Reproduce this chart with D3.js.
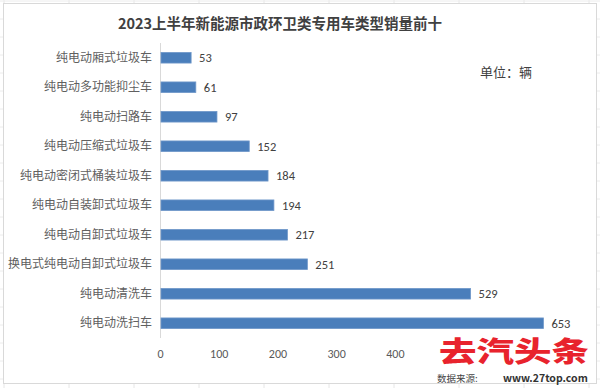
<!DOCTYPE html>
<html>
<head>
<meta charset="utf-8">
<script src="https://cdn.jsdelivr.net/npm/d3@7"></script>
<style>
  body { margin: 0; background: #fff; }
  text { font-family: "Noto Sans CJK SC", "Noto Sans", sans-serif; }
</style>
</head>
<body>
<div id="chart"></div>
<script>
// 数据 (从上到下)
var categories = ['纯电动厢式垃圾车', '纯电动多功能抑尘车', '纯电动扫路车', '纯电动压缩式垃圾车',
  '纯电动密闭式桶装垃圾车', '纯电动自装卸式垃圾车', '纯电动自卸式垃圾车', '换电式纯电动自卸式垃圾车',
  '纯电动清洗车', '纯电动洗扫车'];
var sales = [53, 61, 97, 152, 184, 194, 217, 251, 529, 653];
// 500以上的刻度被水印盖住了
var tickValues = [0, 100, 200, 300, 400];

var width = 600, height = 388;

var svg = d3.select('#chart').append('svg')
  .attr('width', width)
  .attr('height', height);

// 背景的表格线
var grid = svg.append('g');
d3.range(-1, 10).forEach(function(k) {
  grid.append('line')
    .attr('x1', 4 + 65 * k).attr('x2', 4 + 65 * k)
    .attr('y1', 0).attr('y2', height)
    .attr('stroke', '#e6e6e6');
});
d3.range(0, 23).forEach(function(k) {
  grid.append('line')
    .attr('x1', 0).attr('x2', width)
    .attr('y1', 1 + 18 * k).attr('y2', 1 + 18 * k)
    .attr('stroke', '#ececec');
});

// 图表区
svg.append('rect')
  .attr('x', 3.5).attr('y', 3.5)
  .attr('width', 593).attr('height', 380)
  .attr('fill', '#fff')
  .attr('stroke', '#d9d9d9');

var x = d3.scaleLinear().domain([0, 700]).range([160, 571]);
var y = d3.scaleBand().domain(categories).range([43, 338]).paddingInner(0.64).paddingOuter(0.32);

svg.append('text')
  .attr('x', 280).attr('y', 29)
  .attr('text-anchor', 'middle')
  .attr('font-size', 14.5)
  .attr('font-weight', 'bold')
  .attr('fill', '#404040')
  .text('2023上半年新能源市政环卫类专用车类型销量前十');

// x轴
var xAxis = svg.append('g')
  .attr('transform', 'translate(0,338)')
  .call(d3.axisBottom(x).tickValues(tickValues).tickSize(0).tickPadding(11));
xAxis.select('.domain').remove();
xAxis.selectAll('text')
  .attr('font-size', 12)
  .attr('fill', '#595959')
  .style('font-family', 'Carlito, "Liberation Sans", sans-serif');

// y轴
var yAxis = svg.append('g')
  .attr('transform', 'translate(160,0)')
  .call(d3.axisLeft(y).tickSize(0).tickPadding(8));
yAxis.select('.domain')
  .attr('stroke', '#d9d9d9')
  .attr('d', 'M0.5,43V338');
yAxis.selectAll('text')
  .attr('font-size', 12)
  .attr('fill', '#606060');

// 长条
svg.selectAll('.bar')
  .data(sales)
  .enter()
  .append('rect')
  .attr('class', 'bar')
  .attr('x', x(0) + 1)
  .attr('y', function(d, i) { return y(categories[i]); })
  .attr('width', function(d) { return x(d) - x(0) - 1; })
  .attr('height', y.bandwidth())
  .attr('fill', '#4a7ebb')
  .attr('stroke', '#6f97c9')
  .attr('stroke-width', 0.8);

// 数值标签
svg.selectAll('.val')
  .data(sales)
  .enter()
  .append('text')
  .attr('class', 'val')
  .attr('x', function(d) { return x(d) + 8; })
  .attr('y', function(d, i) { return y(categories[i]) + y.bandwidth() / 2; })
  .attr('dy', '0.35em')
  .attr('font-size', 12.5)
  .attr('fill', '#404040')
  .style('font-family', 'Carlito, "Liberation Sans", sans-serif')
  .text(function(d) { return d; });

svg.append('text')
  .attr('x', 480).attr('y', 77)
  .attr('font-size', 13)
  .attr('fill', '#404040')
  .text('单位：辆');

// 水印
svg.append('text')
  .attr('x', 514).attr('y', 362)
  .attr('text-anchor', 'middle')
  .attr('font-size', 28)
  .attr('font-weight', 900)
  .attr('fill', '#e8232d')
  .attr('textLength', 150)
  .attr('lengthAdjust', 'spacingAndGlyphs')
  .text('去汽头条');
svg.append('text')
  .attr('x', 437).attr('y', 382)
  .attr('font-size', 9.5)
  .attr('fill', '#444')
  .text('数据来源:');
svg.append('text')
  .attr('x', 503).attr('y', 382)
  .attr('font-size', 10.5)
  .attr('font-weight', 'bold')
  .attr('fill', '#333')
  .text('www.27top.com');
</script>
</body>
</html>
